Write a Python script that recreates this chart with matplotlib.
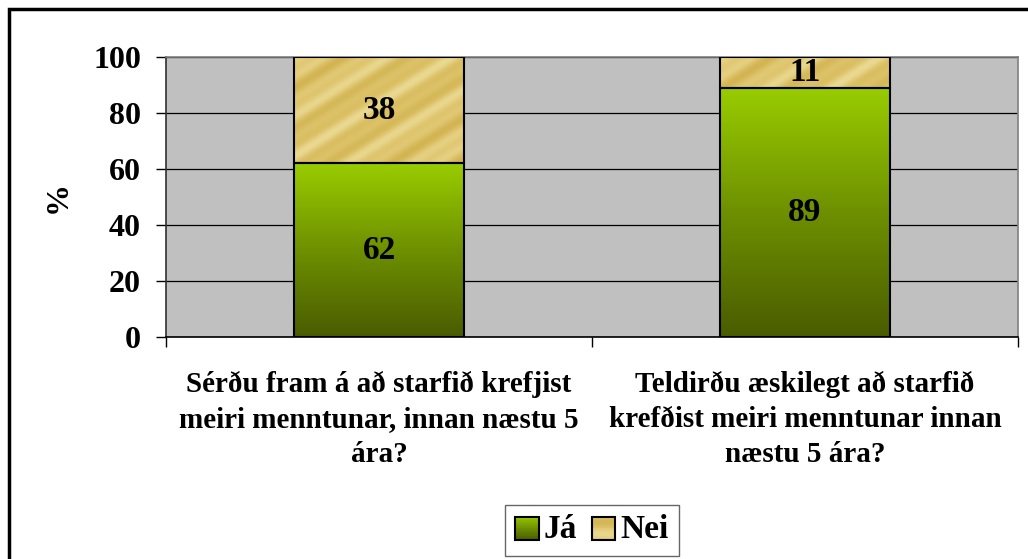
import numpy as np
import matplotlib
matplotlib.use("Agg")
import matplotlib.pyplot as plt
from matplotlib.patches import Rectangle
from matplotlib.legend_handler import HandlerBase
from matplotlib.colors import LinearSegmentedColormap

# Gögn
categories = [
    "Sérðu fram á að starfið krefjist\nmeiri menntunar, innan næstu 5\nára?",
    "Teldirðu æskilegt að starfið\nkrefðist meiri menntunar innan\nnæstu 5 ára?",
]
ja = [62, 89]
nei = [38, 11]
series_names = ["Já", "Nei"]

plt.rcParams["font.family"] = ["Liberation Serif", "DejaVu Serif"]
plt.rcParams["font.weight"] = "bold"

W, H = 1028, 559
fig = plt.figure(figsize=(W / 100, H / 100), dpi=100)
ax = fig.add_axes([166 / W, 1 - 337 / H, (1018 - 166) / W, (337 - 57) / H])
ax.set_facecolor("#C0C0C0")

x = np.arange(len(categories))
bars_ja = ax.bar(x, ja, width=0.4, facecolor="none", edgecolor="black", linewidth=1.5, zorder=3)
bars_nei = ax.bar(x, nei, bottom=ja, width=0.4, facecolor="none", edgecolor="black", linewidth=1.5, zorder=3)

ax.set_xlim(-0.5, len(categories) - 0.5)
ax.set_ylim(0, 100)

green_cmap = LinearSegmentedColormap.from_list("gr", ["#4A5C00", "#6E9000", "#99CC00"])
gold_cmap = LinearSegmentedColormap.from_list("go", ["#D2B452", "#DEC46C", "#EAD992"])


def fill_bar(patch, kind):
    x0, y0 = patch.get_x(), patch.get_y()
    w, h = patch.get_width(), patch.get_height()
    p0 = ax.transData.transform((x0, y0))
    p1 = ax.transData.transform((x0 + w, y0 + h))
    npx = max(int(abs(p1[0] - p0[0])), 2)
    npy = max(int(abs(p1[1] - p0[1])), 2)
    if kind == "green":
        img = np.linspace(1, 0, npy)[:, None] * np.ones((1, npx))
        cmap = green_cmap
    else:
        xx, yy = np.meshgrid(np.arange(npx), np.arange(npy))
        d = (xx + 1.6 * yy)
        img = 0.5 + 0.3 * np.sin(d * 2 * np.pi / 70.0) + 0.2 * np.sin(d * 2 * np.pi / 31.0 + 1.0)
        cmap = gold_cmap
    im = ax.imshow(img, extent=(x0, x0 + w, y0, y0 + h), origin="upper",
                   cmap=cmap, vmin=0, vmax=1, aspect="auto", zorder=2,
                   interpolation="bilinear")
    im.set_clip_path(patch)


for b in bars_ja:
    fill_bar(b, "green")
for b in bars_nei:
    fill_bar(b, "gold")
ax.set_xlim(-0.5, len(categories) - 0.5)
ax.set_ylim(0, 100)

# gildi
for i in range(len(categories)):
    ax.text(x[i], ja[i] / 2, str(ja[i]), ha="center", va="center", fontsize=24, fontweight="bold", zorder=4)
    ax.text(x[i], ja[i] + nei[i] / 2, str(nei[i]), ha="center", va="center", fontsize=24, fontweight="bold", zorder=4)

# rist og ásar
ax.set_yticks([0, 20, 40, 60, 80, 100])
ax.yaxis.grid(True, color="black", linewidth=0.9, zorder=1)
ax.set_axisbelow(True)
ax.tick_params(axis="y", direction="out", length=7, width=1, pad=11, labelsize=23)
ax.set_xticks(x)
ax.set_xticklabels(categories, fontsize=21, fontweight="bold", linespacing=1.4)
ax.tick_params(axis="x", which="major", length=0, pad=24)
ax.set_xticks([-0.5, 0.5, 1.5], minor=True)
ax.tick_params(axis="x", which="minor", direction="out", length=7, width=1)
for lab in ax.get_yticklabels():
    lab.set_fontweight("bold")

ax.spines["top"].set_color("#808080")
ax.spines["right"].set_color("#808080")
ax.spines["left"].set_color("#303030")
ax.spines["bottom"].set_color("black")
for s in ax.spines.values():
    s.set_linewidth(1.2)

fig.text(58 / W, 1 - 197 / H, "%", rotation=90, ha="center", va="center", fontsize=23, fontweight="bold")


# legend med litabrigdum
class GradHandler(HandlerBase):
    def __init__(self, kind):
        super().__init__()
        self.kind = kind

    def create_artists(self, legend, orig_handle, xdescent, ydescent, width, height, fontsize, trans):
        size = min(width, height) * 1.0
        x0 = -xdescent + width - size
        y0 = -ydescent + (height - size) / 2 - 1
        arts = []
        n = 12
        for k in range(n):
            t = (k + 0.5) / n
            if self.kind == "green":
                c = green_cmap(t)
            else:
                c = gold_cmap(0.5 + 0.45 * np.sin(t * 2 * np.pi))
            r = Rectangle((x0, y0 + size * k / n), size, size / n + 0.3, facecolor=c,
                          edgecolor="none", transform=trans)
            arts.append(r)
        arts.append(Rectangle((x0, y0), size, size, facecolor="none", edgecolor="black",
                              linewidth=1.5, transform=trans))
        return arts


h1 = Rectangle((0, 0), 1, 1)
h2 = Rectangle((0, 0), 1, 1)
leg = fig.legend([h1, h2], series_names, loc="center", bbox_to_anchor=(592 / W, 1 - 530 / H),
                 ncol=2, prop={"weight": "bold", "size": 24},
                 handler_map={h1: GradHandler("green"), h2: GradHandler("gold")},
                 handlelength=0.7, handletextpad=0.15, columnspacing=0.45,
                 borderpad=0.3, borderaxespad=0, fancybox=False, frameon=True)
leg.get_frame().set_edgecolor("#404040")
leg.get_frame().set_linewidth(1.0)

# ytri rammi
fig.patches.append(Rectangle((9 / W, -0.1), 1.2, (H - 9) / H + 0.1, transform=fig.transFigure,
                             fill=False, edgecolor="black", linewidth=2.5))

fig.savefig("out.png", dpi=100, facecolor="white")
